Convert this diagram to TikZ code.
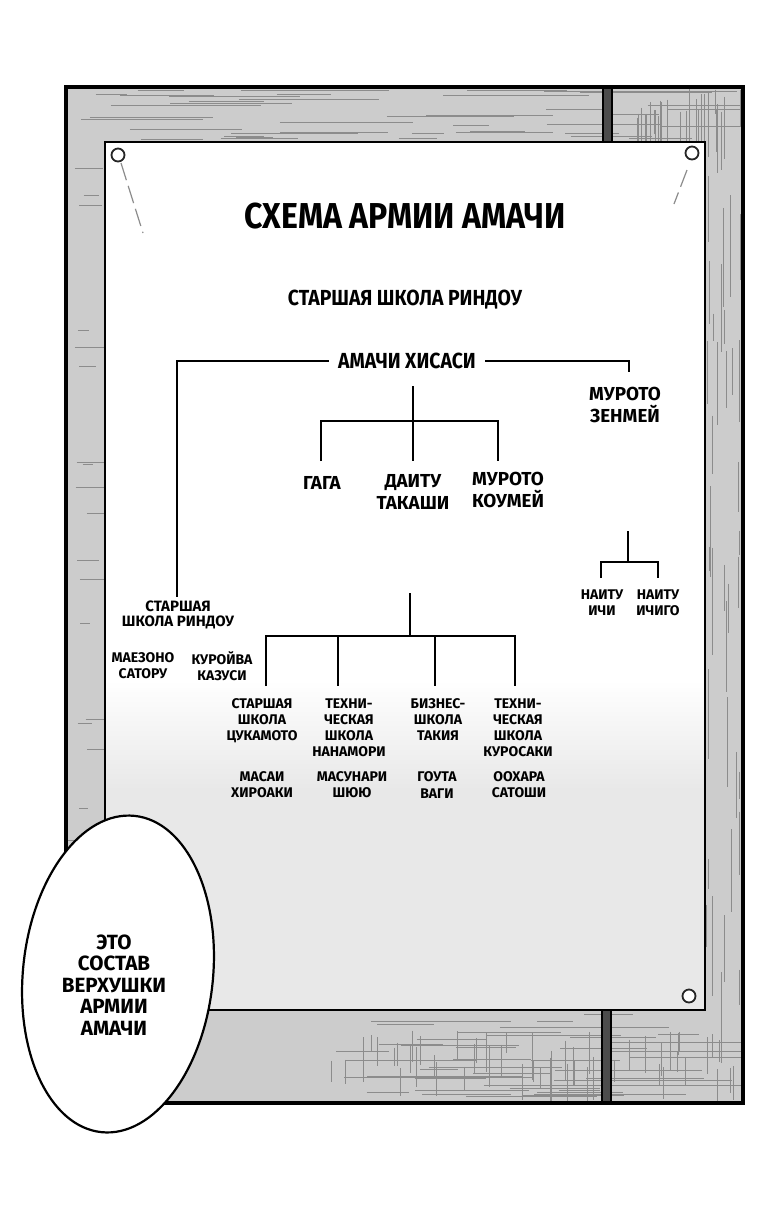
\documentclass[tikz,border=0pt]{standalone}
\usepackage{fontspec}
\newfontfamily\comic{Fira Sans}
\newfontfamily\comicn[FakeStretch=0.89]{Fira Sans}
\usetikzlibrary{calc}
\tikzset{
  txt/.style={align=center, inner sep=0pt, text=black},
  ttl/.style={txt, font=\comicn\bfseries\fontsize{18}{20}\selectfont},
  big/.style={txt, font=\comicn\bfseries\fontsize{10.9}{12}\selectfont},
  mid/.style={txt, font=\comic\bfseries\fontsize{9.4}{11}\selectfont},
  sml/.style={txt, font=\comic\bfseries\fontsize{7}{8.1}\selectfont},
  rin/.style={txt, font=\comic\bfseries\fontsize{7.5}{7.7}\selectfont},
  bub/.style={txt, font=\comic\bfseries\fontsize{10.3}{10.75}\selectfont},
  tree/.style={line width=1.25pt, line join=miter, black},
  streak/.style={line width=0.3pt, black!45},
  pin/.style={line width=0.9pt, black!85, fill=white},
  cord/.style={line width=0.6pt, black!45, dash pattern=on 9pt off 3pt},
}
\begin{document}
\begin{tikzpicture}[x=0.5pt,y=-0.5pt]
\useasboundingbox (0,0) rectangle (770,1206);
\fill[white] (0,0) rectangle (770,1206);

% ---- frame ----
\fill[black!20] (66,87) rectangle (743,1103);
\begin{scope}
\clip (66,87) rectangle (743,1103);
\pgfmathsetseed{17}
\foreach \i in {1,...,45}{
  \pgfmathsetmacro\yy{89+52*rnd}
  \pgfmathsetmacro\xa{68+600*rnd}
  \pgfmathsetmacro\xb{\xa+30+120*rnd}
  \draw[streak] (\xa,\yy) -- (\xb,\yy);
}
\foreach \i in {1,...,30}{
  \pgfmathsetmacro\xx{620+120*rnd}
  \pgfmathsetmacro\ya{88+30*rnd}
  \pgfmathsetmacro\yb{\ya+20+60*rnd}
  \draw[streak] (\xx,\ya) -- (\xx,\yb);
}
\foreach \i in {1,...,40}{
  \pgfmathsetmacro\xx{706+36*rnd}
  \pgfmathsetmacro\ya{140+860*rnd}
  \pgfmathsetmacro\yb{\ya+20+80*rnd}
  \draw[streak] (\xx,\ya) -- (\xx,\yb);
}
\foreach \i in {1,...,50}{
  \pgfmathsetmacro\yy{1012+88*rnd}
  \pgfmathsetmacro\xa{330+330*rnd}
  \pgfmathsetmacro\xb{\xa+30+130*rnd}
  \draw[streak] (\xa,\yy) -- (\xb,\yy);
}
\foreach \i in {1,...,60}{
  \pgfmathsetmacro\xx{330+410*rnd}
  \pgfmathsetmacro\ya{1030+40*rnd}
  \pgfmathsetmacro\yb{\ya+15+30*rnd}
  \draw[streak] (\xx,\ya) -- (\xx,\yb);
}
\foreach \i in {1,...,25}{
  \pgfmathsetmacro\yy{150+850*rnd}
  \pgfmathsetmacro\xa{68+20*rnd}
  \pgfmathsetmacro\xb{\xa+8+25*rnd}
  \draw[streak] (\xa,\yy) -- (\xb,\yy);
}
\end{scope}
% dark bars
\fill[black!70] (603,87) rectangle (612,142);
\draw[line width=0.8pt] (603,87) -- (603,142) (612,87) -- (612,142);
\fill[black!70] (602,1010) rectangle (611,1103);
\draw[line width=0.8pt] (602,1010) -- (602,1103) (611,1010) -- (611,1103);

% ---- poster ----
\fill[white] (105,142) rectangle (705,1010);
\shade[top color=white, bottom color=black!9] (105,680) rectangle (705,790);
\fill[black!9] (105,789) rectangle (705,1010);
\draw[line width=0.9pt] (105,142) rectangle (705,1010);
\draw[line width=2pt] (66,87) rectangle (743,1103);

% pins and cords
\draw[cord] (121,163) -- (143,233);
\draw[cord] (687,170) -- (674,204);
\draw[pin] (118,155) circle [radius=6.5];
\draw[pin] (692,153) circle [radius=6.5];
\draw[pin] (689,996) circle [radius=6.5];

% ---- texts ----
\node[ttl] (title) at (405,216) {СХЕМА АРМИИ АМАЧИ};
\node[big] (school) at (405,300) {СТАРШАЯ ШКОЛА РИНДОУ};
\node[big, inner xsep=4.5pt] (boss) at (407,361) {АМАЧИ ХИСАСИ};
\node[mid] (zenmei) at (625,405) {МУРОТО\\ЗЕНМЕЙ};
\node[mid] (gaga) at (322,483) {ГАГА};
\node[mid] (daitu) at (413,492) {ДАИТУ\\ТАКАШИ};
\node[mid] (koumei) at (508,490) {МУРОТО\\КОУМЕЙ};
\node[sml] (ichi) at (602,603) {НАИТУ\\ИЧИ};
\node[sml] (ichigo) at (658,603) {НАИТУ\\ИЧИГО};
\node[rin] (rindou) at (178,615) {СТАРШАЯ\\ШКОЛА РИНДОУ};
\node[sml] (maezono) at (143,666) {МАЕЗОНО\\САТОРУ};
\node[sml] (kuroiva) at (222,666) {КУРОЙВА\\КАЗУСИ};
\node[sml, anchor=north] (c1) at (262,698) {СТАРШАЯ\\ШКОЛА\\ЦУКАМОТО};
\node[sml, anchor=north] (c2) at (349,698) {ТЕХНИ-\\ЧЕСКАЯ\\ШКОЛА\\НАНАМОРИ};
\node[sml, anchor=north] (c3) at (438,698) {БИЗНЕС-\\ШКОЛА\\ТАКИЯ};
\node[sml, anchor=north] (c4) at (518,698) {ТЕХНИ-\\ЧЕСКАЯ\\ШКОЛА\\КУРОСАКИ};
\node[sml] (n1) at (262,785) {МАСАИ\\ХИРОАКИ};
\node[sml] (n2) at (352,785) {МАСУНАРИ\\ШЮЮ};
\node[sml] (n3) at (437,785) {ГОУТА\\ВАГИ};
\node[sml] (n4) at (519,785) {ООХАРА\\САТОШИ};

% ---- connectors ----
\coordinate (lv) at (177,597);
\coordinate (zt) at (629,372);
\draw[tree] (boss.west) -| (lv);
\draw[tree] (boss.east) -| (zt);

\coordinate (b1top) at (413,386);
\coordinate (b1R) at (498,421);
\coordinate (d1a) at (321,461);
\coordinate (d1b) at (413,461);
\coordinate (d1c) at (498,461);
\draw[tree] (b1top) -- (d1b);
\draw[tree] (d1a) |- (b1R) -- (d1c);

\coordinate (b2top) at (628,531);
\coordinate (b2m) at (628,562);
\coordinate (b2R) at (658,562);
\coordinate (d2a) at (601,578);
\coordinate (d2b) at (658,578);
\draw[tree] (b2top) -- (b2m);
\draw[tree] (d2a) |- (b2R) -- (d2b);

\coordinate (b3top) at (410,593);
\coordinate (b3m) at (410,636);
\coordinate (b3R) at (515,636);
\coordinate (d3a) at (266,686);
\coordinate (d3b) at (338,686);
\coordinate (d3c) at (435,686);
\coordinate (d3d) at (515,686);
\draw[tree] (b3top) -- (b3m);
\draw[tree] (d3a) |- (b3R) -- (d3d);
\draw[tree] (d3b |- b3m) -- (d3b);
\draw[tree] (d3c |- b3m) -- (d3c);

% ---- speech bubble ----
\draw[fill=white, line width=1.1pt, rotate around={-6:(118,974)}] (118,974) ellipse [x radius=95, y radius=159];
\node[bub] (speech) at (114,985) {ЭТО\\СОСТАВ\\ВЕРХУШКИ\\АРМИИ\\АМАЧИ};
\end{tikzpicture}
\end{document}
